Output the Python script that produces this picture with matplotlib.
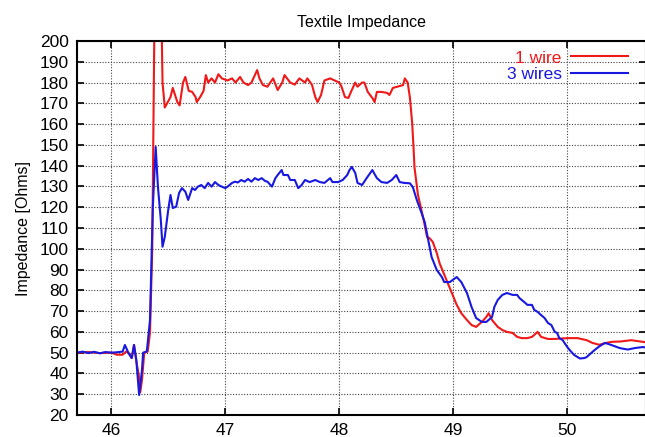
import matplotlib
matplotlib.use("Agg")
import matplotlib.pyplot as plt

plt.rcParams['font.family'] = ['Liberation Sans', 'DejaVu Sans']

# 1 wire (red) - time vs impedance
x_one = [45.70, 45.80, 45.90, 46.00, 46.05, 46.10, 46.13, 46.15, 46.18, 46.20,
         46.22, 46.245, 46.255, 46.27, 46.29, 46.32, 46.34, 46.36, 46.38, 46.40,
         46.44, 46.45, 46.47, 46.52, 46.54, 46.58, 46.60, 46.63, 46.65, 46.68,
         46.71, 46.74, 46.75, 46.78, 46.81, 46.83, 46.85, 46.88, 46.91, 46.94,
         46.97, 47.02, 47.06, 47.09, 47.13, 47.16, 47.20, 47.23, 47.28, 47.30,
         47.33, 47.37, 47.42, 47.46, 47.50, 47.52, 47.57, 47.61, 47.65, 47.70,
         47.72, 47.76, 47.79, 47.81, 47.84, 47.87, 47.92, 47.96, 48.00, 48.02,
         48.05, 48.08, 48.11, 48.14, 48.16, 48.20, 48.22, 48.25, 48.29, 48.31,
         48.33, 48.37, 48.42, 48.44, 48.47, 48.51, 48.56, 48.575, 48.60, 48.62,
         48.64, 48.65, 48.66, 48.69, 48.72, 48.74, 48.77, 48.79, 48.82, 48.855,
         48.88, 48.91, 48.94, 48.97, 49.00, 49.03, 49.07, 49.12, 49.16, 49.20,
         49.25, 49.29, 49.31, 49.34, 49.39, 49.43, 49.47, 49.52, 49.56, 49.60,
         49.65, 49.69, 49.74, 49.77, 49.83, 49.89, 50.00, 50.09, 50.17, 50.22,
         50.28, 50.34, 50.39, 50.47, 50.56, 50.66, 50.69]
y_one = [50.0, 50.3, 49.8, 50.0, 49.0, 49.0, 50.5, 50.0, 47.4, 53.7,
         46.0, 38.0, 31.0, 37.0, 50.0, 50.5, 59.5, 100.0, 215.0, 215.0,
         215.0, 180.0, 168.0, 173.0, 177.4, 170.6, 169.0, 180.0, 182.7, 176.0,
         175.5, 173.0, 170.6, 173.0, 176.0, 183.6, 180.0, 182.0, 180.0, 184.0,
         182.0, 181.0, 182.0, 180.0, 182.7, 180.0, 178.8, 180.0, 186.0, 182.0,
         178.8, 178.0, 182.0, 176.4, 180.0, 183.6, 180.0, 179.0, 182.0, 180.0,
         182.0, 179.0, 173.0, 170.6, 174.0, 181.0, 182.0, 181.0, 180.0, 178.0,
         173.0, 172.6, 176.4, 180.0, 178.0, 180.0, 180.0, 175.5, 172.6, 170.6,
         175.5, 175.5, 175.0, 174.0, 177.4, 178.0, 178.8, 182.0, 180.0, 172.6,
         160.0, 150.0, 139.0, 126.0, 118.7, 113.9, 105.7, 105.2, 103.3, 98.0,
         93.0, 89.0, 85.0, 81.0, 77.0, 73.0, 69.0, 65.7, 63.3, 62.4,
         64.8, 67.2, 69.0, 65.7, 62.4, 60.9, 60.0, 59.5, 57.6, 57.0,
         57.0, 57.6, 60.0, 57.6, 56.6, 56.6, 57.0, 57.0, 56.0, 54.7,
         53.8, 54.7, 55.2, 55.4, 56.0, 55.2, 55.0]

# 3 wires (blue)
x_three = [45.70, 45.75, 45.80, 45.85, 45.90, 45.95, 46.00, 46.05, 46.10, 46.12,
           46.15, 46.18, 46.20, 46.22, 46.245, 46.27, 46.28, 46.31, 46.315, 46.34,
           46.365, 46.39, 46.41, 46.435, 46.45, 46.47, 46.50, 46.52, 46.54, 46.57,
           46.595, 46.62, 46.65, 46.675, 46.71, 46.735, 46.76, 46.79, 46.82, 46.85,
           46.88, 46.91, 46.94, 46.97, 47.00, 47.02, 47.06, 47.085, 47.11, 47.14,
           47.17, 47.20, 47.23, 47.26, 47.29, 47.32, 47.35, 47.37, 47.41, 47.44,
           47.46, 47.495, 47.51, 47.55, 47.57, 47.61, 47.64, 47.67, 47.70, 47.74,
           47.79, 47.83, 47.87, 47.92, 47.94, 47.99, 48.03, 48.07, 48.09, 48.11,
           48.14, 48.16, 48.20, 48.24, 48.29, 48.33, 48.37, 48.42, 48.46, 48.50,
           48.53, 48.57, 48.62, 48.645, 48.68, 48.72, 48.75, 48.78, 48.81, 48.855,
           48.90, 48.92, 48.97, 49.03, 49.07, 49.12, 49.16, 49.20, 49.25, 49.29,
           49.34, 49.36, 49.39, 49.43, 49.47, 49.52, 49.56, 49.58, 49.63, 49.65,
           49.69, 49.71, 49.74, 49.77, 49.80, 49.83, 49.86, 49.89, 49.91, 49.93,
           49.96, 49.975, 50.00, 50.02, 50.06, 50.11, 50.15, 50.17, 50.19, 50.22,
           50.24, 50.28, 50.33, 50.37, 50.41, 50.46, 50.53, 50.59, 50.66, 50.69]
y_three = [50.0, 50.5, 49.8, 50.4, 49.7, 50.3, 50.0, 50.2, 50.5, 53.7,
           50.0, 47.4, 53.7, 46.5, 29.6, 41.7, 50.0, 50.5, 52.0, 65.7,
           120.0, 149.0, 129.7, 113.9, 101.0, 105.8, 118.7, 125.9, 119.6, 120.3,
           126.8, 129.2, 127.5, 123.5, 129.2, 128.3, 129.9, 130.7, 129.2, 131.7,
           129.9, 132.1, 130.7, 129.9, 129.2, 129.9, 131.7, 132.3, 131.9, 133.1,
           132.3, 133.6, 132.3, 134.0, 133.1, 134.0, 132.6, 132.3, 129.9, 134.0,
           135.5, 137.9, 135.5, 135.5, 133.1, 133.1, 129.2, 130.7, 133.1, 132.1,
           133.1, 132.1, 131.7, 134.0, 132.1, 132.1, 133.1, 135.5, 137.9, 139.4,
           136.5, 131.7, 130.7, 134.0, 137.9, 134.0, 132.1, 131.7, 133.1, 135.5,
           132.1, 131.7, 131.5, 129.7, 123.5, 117.5, 112.7, 104.2, 96.0, 89.8,
           86.4, 84.0, 84.0, 86.4, 84.0, 78.7, 72.0, 66.7, 64.8, 64.8,
           67.2, 72.0, 75.4, 77.8, 78.7, 77.8, 77.8, 76.3, 74.0, 73.0,
           73.0, 70.6, 69.6, 68.1, 66.7, 64.3, 63.3, 60.0, 59.5, 57.0,
           56.0, 54.7, 52.7, 51.3, 48.9, 47.2, 47.4, 47.9, 48.9, 50.3,
           51.3, 53.0, 54.7, 54.0, 53.2, 52.2, 51.5, 52.2, 52.7, 52.5]

x_ticks = [46, 47, 48, 49, 50]
y_ticks = list(range(20, 201, 10))

fig = plt.figure(figsize=(6.45, 4.37), dpi=100)
ax = fig.add_axes([77 / 645, 1 - 415 / 437, 569 / 645, 374 / 437])

ax.plot(x_one, y_one, color='#f01818', lw=1.5, label='1 wire')
ax.plot(x_three, y_three, color='#1818e0', lw=1.5, label='3 wires')

ax.set_xlim(45.70, 50.69)
ax.set_ylim(20, 200)
ax.set_xticks(x_ticks)
ax.set_yticks(y_ticks)
ax.tick_params(direction='in', length=5, width=1.2, top=True, right=True,
               labelsize=12.5, pad=6)
ax.grid(True, color='#444444', linestyle=(0, (1, 1.5)), linewidth=0.8)
for sp in ax.spines.values():
    sp.set_linewidth(1.5)

ax.set_title('Textile Impedance', fontsize=11.5, pad=10)
ax.set_ylabel('Impedance [Ohms]', fontsize=11.5, labelpad=6)

leg = ax.legend(loc='upper right', bbox_to_anchor=(0.968, 0.975), frameon=False,
                markerfirst=False, labelcolor='linecolor', fontsize=12.5,
                handlelength=3.3, handletextpad=0.5, labelspacing=0.1,
                borderpad=0, borderaxespad=0)

fig.savefig('out.png', dpi=100)
